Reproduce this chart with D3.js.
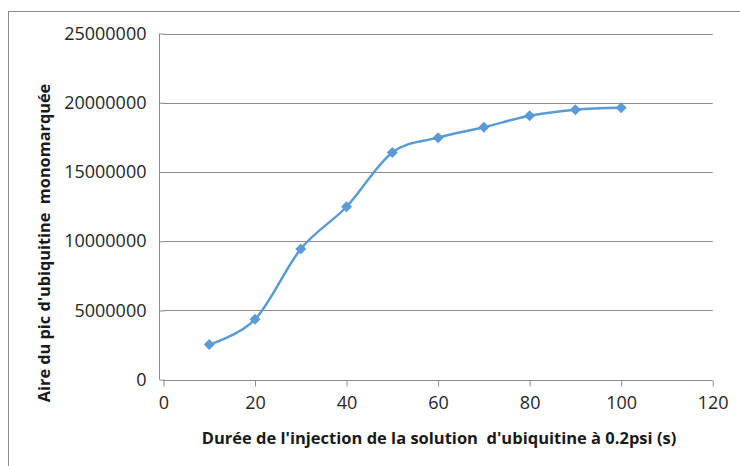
<!DOCTYPE html>
<html><head><meta charset="utf-8">
<script src="https://cdn.jsdelivr.net/npm/d3@7"></script>
<style>body{margin:0;background:#fff}svg{display:block}</style>
</head><body>
<script>
const durations = [10, 20, 30, 40, 50, 60, 70, 80, 90, 100];
const areas = [2550000, 4360000, 9440000, 12490000, 16410000, 17480000, 18230000, 19060000, 19500000, 19640000];
const xTicks = [0, 20, 40, 60, 80, 100, 120];
const yTicks = [0, 5000000, 10000000, 15000000, 20000000, 25000000];
const xTitle = "Durée de l'injection de la solution  d'ubiquitine à 0.2psi (s)";
const yTitle = "Aire du pic d'ubiquitine  monomarquée";

const W = 740, H = 466;
const svg = d3.select("body").append("svg").attr("width", W).attr("height", H);
const font = "'Open Sans', 'Liberation Sans', sans-serif";
svg.append("rect").attr("x", 8.5).attr("y", 11.5).attr("width", 800).attr("height", 600)
  .attr("fill", "#fff").attr("stroke", "#8a8a8a").attr("stroke-width", 1);

const m = {l: 163.5, r: 712.7, t: 33.5, b: 379.7};
const x = d3.scaleLinear().domain([0, 120]).range([m.l, m.r]);
const y = d3.scaleLinear().domain([0, 25000000]).range([m.b, m.t]);

// gridlines
svg.append("g").selectAll("line").data(yTicks.filter(d => d > 0)).join("line")
  .attr("x1", m.l).attr("x2", m.r).attr("y1", d => Math.round(y(d)) + 0.5).attr("y2", d => Math.round(y(d)) + 0.5)
  .attr("stroke", "#8c8c8c").attr("stroke-width", 1);

const xAxis = svg.append("g").attr("transform", `translate(0,${Math.round(m.b) + 0.5})`)
  .call(d3.axisBottom(x).tickValues(xTicks).tickSize(6).tickPadding(10).tickFormat(d3.format("d")));
const yAxis = svg.append("g").attr("transform", `translate(${Math.round(m.l) + 0.5},0)`)
  .call(d3.axisLeft(y).tickValues(yTicks).tickSize(5).tickPadding(13).tickFormat(d3.format("d")));
[xAxis, yAxis].forEach(a => {
  a.select(".domain").attr("stroke", "#8c8c8c");
  a.selectAll(".tick line").attr("stroke", "#8c8c8c");
  a.selectAll("text").attr("font-family", font).attr("font-size", 18).attr("fill", "#262626");
});
yAxis.select(".domain").attr("d", `M-5,${m.t}V${m.b}`);
xAxis.select(".domain").attr("d", `M${m.l},0H${m.r}`);

const pts = durations.map((d, i) => [x(d), y(areas[i])]);
svg.append("path").attr("d", d3.line().curve(d3.curveCardinal.tension(0))(pts))
  .attr("fill", "none").attr("stroke", "#5b9bd5").attr("stroke-width", 2.5);
const dm = 5.5;
svg.append("g").selectAll("path").data(pts).join("path")
  .attr("d", `M0,${-dm}L${dm},0L0,${dm}L${-dm},0Z`)
  .attr("transform", p => `translate(${p[0]},${p[1]})`)
  .attr("fill", "#5b9bd5");

svg.append("text").attr("x", 439).attr("y", 444).attr("text-anchor", "middle")
  .attr("font-family", font).attr("font-weight", "bold").attr("font-size", 16.5).attr("fill", "#1a1a1a")
  .attr("xml:space", "preserve").text(xTitle);
svg.append("text").attr("transform", "translate(50,243) rotate(-90)").attr("text-anchor", "middle")
  .attr("font-family", font).attr("font-weight", "bold").attr("font-size", 16.3).attr("fill", "#1a1a1a")
  .attr("xml:space", "preserve").text(yTitle);
</script>
</body></html>
